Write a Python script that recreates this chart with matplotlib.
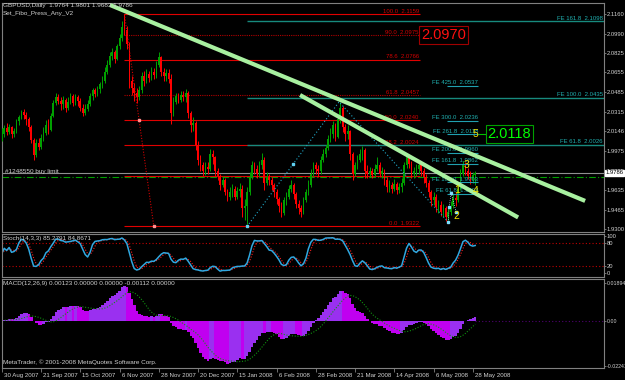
import numpy as np
import pandas as pd
import matplotlib
matplotlib.use("Agg")
import matplotlib.pyplot as plt
import matplotlib.transforms as mtransforms

plt.rcParams['font.family'] = ['Liberation Sans', 'DejaVu Sans']

# GBPUSD daily bars, prices in 1/10000
first_open = 20080
close_p = [20120, 20170, 20140, 20180, 20120, 20150, 20230, 20270, 20310, 20290,
           20250, 20180, 20070, 19940, 20040, 20010, 20090, 20130, 20200, 20160,
           20280, 20390, 20440, 20410, 20380, 20420, 20350, 20400, 20450, 20390,
           20440, 20410, 20350, 20300, 20340, 20380, 20450, 20500, 20470, 20510,
           20550, 20580, 20660, 20720, 20800, 20830, 20770, 20880, 20950, 21050,
           21020, 20900, 20580, 20520, 20480, 20440, 20500, 20620, 20580, 20640,
           20610, 20660, 20630, 20720, 20790, 20660, 20620, 20650, 20600, 20300,
           20400, 20450, 20420, 20460, 20440, 20480, 20300, 20200, 20220, 20030,
           19900, 19850, 19800, 19840, 19820, 19950, 19920, 19800, 19760, 19680,
           19720, 19620, 19580, 19620, 19650, 19580, 19630, 19650, 19480, 19500,
           19620, 19750, 19850, 19820, 19780, 19850, 19900, 19700, 19750, 19720,
           19680, 19620, 19560, 19500, 19440, 19550, 19580, 19650, 19680, 19600,
           19520, 19480, 19450, 19550, 19620, 19680, 19780, 19850, 19820, 19800,
           19900, 19950, 20000, 20080, 20120, 20200, 20100, 20250, 20350, 20180,
           20120, 20150, 19950, 19780, 19850, 19900, 19950, 19980, 19800, 19780,
           19800, 19770, 19820, 19850, 19780, 19800, 19720, 19660, 19680, 19650,
           19690, 19640, 19660, 19700, 19850, 19920, 19860, 19780, 19800, 19820,
           19850, 19800, 19750, 19700, 19620, 19550, 19580, 19490, 19510, 19450,
           19480, 19400, 19450, 19500, 19570, 19550, 19650, 19780, 19850, 19800,
           19760, 19720, 19764, 19786]
high_p = [20175, 20200, 20215, 20210, 20190, 20170, 20250, 20290, 20330, 20340,
          20310, 20270, 20200, 20090, 20080, 20090, 20120, 20180, 20240, 20250,
          20300, 20420, 20480, 20470, 20440, 20450, 20430, 20440, 20480, 20470,
          20470, 20460, 20430, 20380, 20380, 20420, 20480, 20520, 20520, 20540,
          20570, 20620, 20700, 20760, 20830, 20870, 20850, 20900, 20990, 21100,
          21161, 21060, 20920, 20620, 20560, 20520, 20540, 20660, 20670, 20680,
          20670, 20700, 20690, 20750, 20830, 20800, 20690, 20680, 20680, 20640,
          20440, 20480, 20480, 20490, 20490, 20510, 20490, 20320, 20270, 20230,
          20060, 19940, 19880, 19880, 19880, 19990, 19980, 19930, 19830, 19780,
          19760, 19740, 19650, 19660, 19690, 19670, 19660, 19700, 19680, 19560,
          19660, 19790, 19890, 19880, 19850, 19890, 19960, 19920, 19790, 19780,
          19750, 19700, 19650, 19580, 19530, 19580, 19620, 19680, 19720, 19700,
          19620, 19550, 19510, 19580, 19650, 19720, 19820, 19880, 19880, 19850,
          19930, 19990, 20030, 20110, 20170, 20230, 20220, 20290, 20400, 20360,
          20210, 20200, 20160, 19970, 19880, 19940, 19990, 20020, 20000, 19850,
          19840, 19830, 19860, 19920, 19880, 19840, 19820, 19750, 19720, 19710,
          19730, 19710, 19700, 19740, 19880, 19960, 19950, 19890, 19840, 19860,
          19880, 19870, 19830, 19780, 19720, 19640, 19620, 19600, 19550, 19540,
          19520, 19500, 19480, 19540, 19600, 19620, 19680, 19820, 19890, 19880,
          19830, 19800, 19790, 19801]
low_p = [20060, 20100, 20110, 20120, 20090, 20100, 20130, 20200, 20250, 20250,
         20200, 20150, 20040, 19900, 19920, 19980, 19990, 20060, 20110, 20120,
         20150, 20270, 20370, 20380, 20330, 20340, 20310, 20330, 20380, 20360,
         20370, 20360, 20320, 20280, 20290, 20320, 20360, 20420, 20440, 20450,
         20480, 20520, 20560, 20640, 20700, 20760, 20740, 20760, 20860, 20930,
         20980, 20860, 20520, 20460, 20410, 20390, 20420, 20480, 20540, 20560,
         20570, 20590, 20600, 20610, 20700, 20620, 20580, 20580, 20560, 20210,
         20280, 20380, 20390, 20400, 20410, 20400, 20260, 20140, 20150, 19980,
         19850, 19800, 19760, 19770, 19780, 19800, 19860, 19760, 19720, 19640,
         19660, 19590, 19540, 19550, 19580, 19550, 19560, 19580, 19400, 19380,
         19340, 19590, 19730, 19780, 19740, 19760, 19820, 19640, 19680, 19680,
         19640, 19580, 19520, 19450, 19400, 19420, 19510, 19560, 19620, 19560,
         19480, 19430, 19400, 19430, 19530, 19590, 19660, 19760, 19780, 19750,
         19780, 19880, 19920, 19980, 20050, 20090, 20060, 20090, 20220, 20140,
         20060, 20080, 19900, 19720, 19760, 19820, 19880, 19900, 19740, 19740,
         19750, 19740, 19750, 19800, 19750, 19740, 19680, 19620, 19620, 19610,
         19630, 19600, 19610, 19620, 19680, 19830, 19830, 19740, 19740, 19760,
         19780, 19760, 19700, 19660, 19580, 19500, 19510, 19450, 19440, 19410,
         19400, 19370, 19380, 19420, 19480, 19500, 19530, 19640, 19760, 19770,
         19730, 19690, 19700, 19683]

date_labels = ['30 Aug 2007', '21 Sep 2007', '15 Oct 2007', '6 Nov 2007', '28 Nov 2007',
               '20 Dec 2007', '15 Jan 2008', '6 Feb 2008', '28 Feb 2008', '21 Mar 2008',
               '14 Apr 2008', '6 May 2008', '28 May 2008']
price_ticks = [2.1160, 2.0990, 2.0825, 2.0655, 2.0485, 2.0315, 2.0146, 1.9975,
               1.9805, 1.9635, 1.9465, 1.9300]
last_price = 1.9786
buy_limit = 1.9750

# fibo retracement (red)
fib_names = ['100.0', '90.0', '78.6', '61.8', '50.0', '38.2', '23.6', '0.0']
fib_prices = [2.1159, 2.0975, 2.0766, 2.0457, 2.0240, 2.0024, 1.9756, 1.9322]
fib_dotted = [False, True, False, True, False, False, False, False]
fib_show_label = [True, True, True, True, True, True, False, True]
# fibo expansion, long (teal)
fe1_names = ['161.8', '100.0', '61.8']
fe1_prices = [2.1098, 2.0435, 2.0026]
# fibo expansion, short
fe2_names = ['425.0', '300.0', '261.8', '200.0', '161.8', '100.0', '61.8']
fe2_prices = [2.0537, 2.0236, 2.0118, 1.9960, 1.9862, 1.9703, 1.9604]
# trend lines (bar index, price)
trend_lines = [((44.1, 2.1238), (237.8, 1.9543)),
               ((121.6, 2.0459), (210.5, 1.9400))]
# wave numbers
wave_text = ['1', '2', '3', '4', '5']
wave_x = [185.6, 185.2, 189.3, 193.3, 193.3]
wave_y = [1.9638, 1.9413, 1.9854, 1.9630, 2.0122]

close = np.array(close_p) / 1e4
high = np.array(high_p) / 1e4
low = np.array(low_p) / 1e4
opn = np.concatenate([[first_open / 1e4], close[:-1]])
high = np.maximum(high, np.maximum(opn, close))
low = np.minimum(low, np.minimum(opn, close))
n = len(close)
idx = np.arange(n)

# indicators
cs = pd.Series(close)
hh = pd.Series(high).rolling(14, min_periods=1).max()
ll = pd.Series(low).rolling(14, min_periods=1).min()
stoch_k = 100 * (cs - ll).rolling(3, min_periods=1).sum() / (hh - ll).rolling(3, min_periods=1).sum()
stoch_d = stoch_k.rolling(3, min_periods=1).mean()
macd = cs.ewm(span=12, adjust=False).mean() - cs.ewm(span=26, adjust=False).mean()
macd_sig = macd.rolling(9, min_periods=1).mean()

W, H = 625, 380
fig = plt.figure(figsize=(W / 100, H / 100), dpi=100, facecolor='black')


def rect(x0, y0, x1, y1):
    return [x0 / W, 1 - y1 / H, (x1 - x0) / W, (y1 - y0) / H]


ax1 = fig.add_axes(rect(2, 3, 604, 232))
ax2 = fig.add_axes(rect(2, 234, 604, 277))
ax3 = fig.add_axes(rect(2, 279, 604, 368))
grey = '#808080'
silver = '#D0D0D0'
fs = 4.6
for ax in (ax1, ax2, ax3):
    ax.set_facecolor('black')
    ax.set_xlim(0.1, 245.5)
    for s in ax.spines.values():
        s.set_color(grey)
        s.set_linewidth(0.8)
    ax.yaxis.tick_right()
    ax.tick_params(axis='y', colors=silver, labelsize=4.2, length=1.5, pad=0.4, width=0.6)
    ax.tick_params(axis='y', color=grey)
for ax in (ax1, ax2):
    ax.set_xticks([])

# ---- main chart ----
ax1.set_ylim(1.9274, 2.1255)
ax1.set_yticks(price_ticks)
ax1.set_yticklabels(['%.4f' % t for t in price_ticks])

ax1.axhline(buy_limit, color='#00A000', lw=0.8, ls=(0, (6, 2, 1, 2)), zorder=1)
ax1.axhline(last_price, color='#909090', lw=0.8, zorder=1)

up = close >= opn
col = np.where(up, '#00A000', '#FF0000')
ax1.vlines(idx, low, high, colors=col, lw=0.7, zorder=3)
body = np.maximum(np.abs(close - opn), 0.0002)
ax1.bar(idx, body, bottom=np.minimum(opn, close), width=0.65, color=col, lw=0, zorder=3)

fib_x0, fib_x1 = 50, 170.5
for name, p, dot, show in zip(fib_names, fib_prices, fib_dotted, fib_show_label):
    ax1.hlines(p, fib_x0, fib_x1, color='#B00000' if dot else '#E00000',
               lw=0.8, ls=(0, (1, 1)) if dot else '-', zorder=2)
    if show:
        ax1.text(fib_x1 - 0.5, p + 0.0005, '%s  %.4f' % (name, p), color='#D00000',
                 fontsize=4.3, ha='right', va='bottom', zorder=5)
ax1.plot([50, 62], [2.1159, 1.9322], color='#D00000', lw=0.8, ls=(0, (1, 1.5)), zorder=4)
ax1.plot([56, 62], [2.0240, 1.9322], ls='none', marker='s', ms=2, color='#FF9090', zorder=5)

fe1_x0 = 100
for name, p in zip(fe1_names, fe1_prices):
    ax1.hlines(p, fe1_x0, 245.5, color='#178A7E', lw=1.0, zorder=2)
    ax1.text(245, p + 0.0005, 'FE %s  %.4f' % (name, p), color='#20B0B0',
             fontsize=4.3, ha='right', va='bottom', zorder=5)

for name, p in zip(fe2_names, fe2_prices):
    ax1.hlines(p, 181.5, 194.2, color='#20A0B0', lw=0.8, zorder=5)
    ax1.text(194.2, p + 0.0005, 'FE %s  %.4f' % (name, p), color='#20B0B0',
             fontsize=4.3, ha='right', va='bottom', zorder=5)

ax1.plot([100, 137.5, 182], [1.9322, 2.0400, 1.9360], color='#20A8C8', lw=0.8,
         ls=(0, (1, 2)), zorder=4)
ax1.plot([118.8, 100], [1.9861, 1.9322], ls='none', marker='s', ms=2, color='#60D0F0', zorder=5)
ax1.plot([182, 182.4, 183.2, 185.2], [1.9362, 1.9491, 1.9612, 1.9448], color='#C0E0F0',
         lw=0.6, ls=(0, (1, 1.5)), marker='s', ms=2, mfc='#80E0FF', mec='#80E0FF', zorder=6)

for (x0, y0), (x1, y1) in trend_lines:
    ax1.plot([x0, x1], [y0, y1], color='#A8F0A0', lw=3.0, solid_capstyle='butt', zorder=6)

for t, x, y in zip(wave_text, wave_x, wave_y):
    ax1.text(x, y, t, color='#F0E000', fontsize=7.5, ha='center', va='center', zorder=7)

ax1.plot([194.6, 197.2], [2.0122, 2.0122], color='#00C000', lw=0.8, zorder=6)
ax1.text(207, 2.0122, '2.0118', color='#00FF00', fontsize=10.5, ha='center', va='center',
         zorder=7, bbox=dict(facecolor='black', edgecolor='#00A000', pad=1.5, lw=0.8))
ax1.text(180, 2.0975, '2.0970', color='#FF1010', fontsize=10.5, ha='center', va='center',
         zorder=7, bbox=dict(facecolor='black', edgecolor='#A00000', pad=1.5, lw=0.8))

tr = mtransforms.blended_transform_factory(ax1.transAxes, ax1.transData)
ax1.text(1.002, last_price, '%.4f' % last_price, transform=tr, color='black', fontsize=4.2,
         ha='left', va='center', zorder=8, clip_on=False,
         bbox=dict(facecolor='white', edgecolor='white', pad=0.3))

fig.text(3 / W, 1 - 3 / H, 'GBPUSD,Daily  1.9764 1.9801 1.9683 1.9786', color=silver,
         fontsize=fs, ha='left', va='top')
fig.text(3 / W, 1 - 11 / H, 'Set_Fibo_Press_Any_V2', color=silver, fontsize=fs, ha='left', va='top')
fig.text(5 / W, 1 - 169 / H, '#1248550 buy limit', color=silver, fontsize=fs, ha='left', va='top')

# ---- stochastic ----
ax2.set_ylim(-10.8, 105.4)
ax2.set_yticks([0, 20, 80, 100])
ax2.set_yticklabels(['0', '20', '80', '100'])
for lv in (20, 80):
    ax2.axhline(lv, color='#C00000', lw=0.8, ls=(0, (1, 2)))
ax2.plot(idx, stoch_d, color='#FF2020', lw=0.8, ls=(0, (1, 1.5)))
ax2.plot(idx, stoch_k, color='#30A8E0', lw=1.1)
fig.text(3 / W, 1 - 236 / H, 'Stoch(14,3,3) 85.2791 84.8671', color=silver, fontsize=fs,
         ha='left', va='top')

# ---- MACD ----
ax3.set_ylim(-0.02365, 0.02085)
ax3.set_yticks([-0.02241, 0.0, 0.01894])
ax3.set_yticklabels(['-0.02241', '0.00', '0.01894'])
ax3.tick_params(axis='y', labelsize=3.8)
rising = np.concatenate([[True], np.diff(macd.values) >= 0])
hcol = np.where(rising, '#9A30F0', '#C000F0')
ax3.bar(idx, macd.values, width=1.0, color=hcol, lw=0)
ax3.plot(idx, macd_sig, color='#109010', lw=0.8, ls=(0, (1, 1.5)))
ax3.hlines(0, n - 1, 245.5, color='#500070', lw=0.8, ls=(0, (1, 2)))
ax3.set_xticks(np.arange(0, n, 16))
ax3.set_xticklabels(date_labels, ha='left')
ax3.tick_params(axis='x', colors=silver, labelsize=4.4, length=3, pad=0.5, width=0.6)
ax3.tick_params(axis='x', color=grey)
off = mtransforms.ScaledTranslation(2 / 100, 0, fig.dpi_scale_trans)
for lbl in ax3.get_xticklabels():
    lbl.set_transform(lbl.get_transform() + off)
fig.text(3 / W, 1 - 281 / H, 'MACD(12,26,9) 0.00123 0.00000 0.00000 -0.00112 0.00000',
         color=silver, fontsize=fs, ha='left', va='top')
fig.text(3 / W, 1 - 359 / H, 'MetaTrader, \u00a9 2001-2008 MetaQuotes Software Corp.',
         color=silver, fontsize=fs, ha='left', va='top')

fig.savefig('out.png', dpi=100, facecolor='black')
